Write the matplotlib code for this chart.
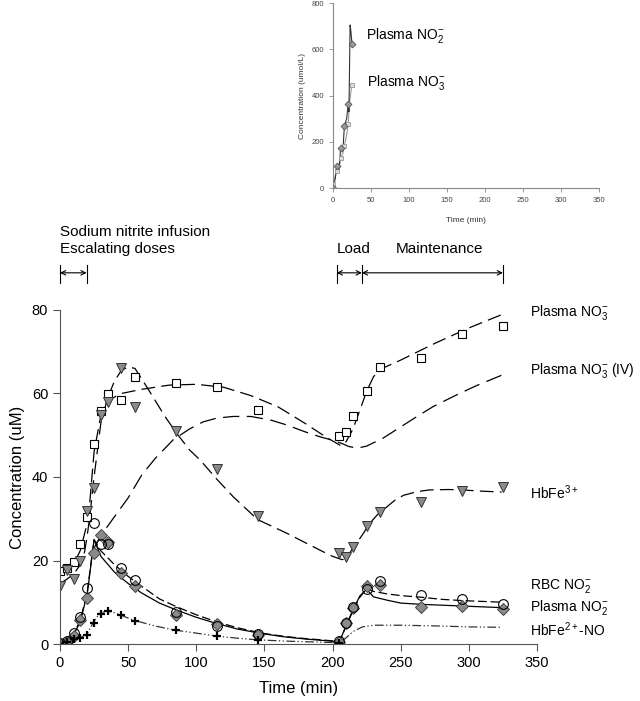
import matplotlib
matplotlib.use('Agg')
import matplotlib.pyplot as plt

plt.rcParams['font.family'] = ['Liberation Sans', 'DejaVu Sans']
plt.rcParams['mathtext.fontset'] = 'custom'
plt.rcParams['mathtext.rm'] = 'Liberation Sans'
plt.rcParams['mathtext.it'] = 'Liberation Sans:italic'

# measured time points (min)
t_meas = [0, 5, 10, 15, 20, 25, 30, 35, 45, 55, 85, 115, 145,
          205, 210, 215, 225, 235, 265, 295, 325]

# measured concentrations (uM)
no3_plasma = [17.6, 18.1, 19.7, 23.9, 30.5, 47.9, 55.8, 59.9, 58.4, 63.9, 62.6, 61.6, 56.0,
              49.9, 50.7, 54.5, 60.5, 66.4, 68.4, 74.2, 76.2]
hbfe3 = [13.9, 17.8, 15.6, 19.9, 31.9, 37.3, 54.8, 58.0, 66.0, 56.7, 51.0, 41.9, 30.7,
         21.9, 20.8, 23.3, 28.3, 31.5, 34.1, 36.6, 37.5]
no2_rbc = [0.2, 0.7, 2.7, 6.4, 13.3, 28.9, 23.9, 23.9, 18.1, 15.3, 7.6, 4.2, 2.3,
           0.7, 5.0, 8.8, 13.2, 15.2, 11.7, 10.8, 9.5]
no2_plasma = [0.0, 0.4, 2.0, 5.7, 10.9, 21.7, 26.1, 24.5, 17.0, 14.0, 7.0, 4.8, 2.1,
              0.4, 5.0, 8.6, 13.9, 14.1, 8.9, 9.1, 8.3]
hbno_t = [0, 5, 10, 15, 20, 25, 30, 35, 45, 55, 85, 115, 145, 205]
hbno = [0.0, 0.4, 1.3, 1.5, 2.2, 5.0, 7.1, 7.9, 6.9, 5.6, 3.4, 1.9, 1.0, 0.3]

# model fits
fit_no3_t = [0, 5, 10, 15, 20, 22, 25, 30, 35, 45, 60, 80, 100, 120, 140, 160, 180, 195, 206,
             210, 215, 220, 225, 230, 235, 250, 275, 300, 325]
fit_no3 = [17.5, 18.0, 19.0, 22.5, 29.0, 34.5, 46.0, 54.8, 58.3, 60.0, 61.0, 62.0, 62.2, 61.5,
           59.5, 56.8, 52.8, 49.6, 47.5, 48.5, 51.5, 56.0, 60.5, 64.0, 65.8, 68.0, 72.0, 75.7, 79.0]
fit_iv_t = [25, 30, 40, 50, 60, 70, 83, 95, 105, 115, 127, 140, 155, 166, 180, 191, 200, 207,
            212, 218, 225, 237, 250, 262, 274, 290, 305, 325]
fit_iv = [23.0, 26.0, 30.5, 35.0, 40.5, 44.5, 48.9, 51.5, 53.2, 54.1, 54.5, 54.5, 53.6, 52.5,
          50.8, 49.6, 48.8, 48.0, 47.3, 46.9, 47.4, 49.3, 52.0, 54.5, 56.9, 59.5, 61.8, 64.5]
fit_hb3_t = [0, 5, 10, 15, 18, 20, 22, 25, 30, 35, 40, 45, 50, 55, 60, 68, 77, 86, 95, 103,
             115, 127, 145, 166, 190, 200, 207, 210, 214, 218, 223, 227, 233, 240, 246, 252,
             262, 271, 285, 295, 310, 324]
fit_hb3 = [14.5, 15.5, 16.8, 19.0, 22.0, 26.0, 31.0, 40.0, 53.0, 59.0, 63.0, 65.5, 66.4, 66.0,
           63.5, 59.3, 54.5, 50.3, 46.5, 44.0, 39.5, 35.3, 29.8, 26.6, 22.6, 21.0, 20.2, 20.5,
           22.5, 24.3, 26.7, 28.8, 31.0, 32.9, 34.5, 35.6, 36.5, 36.9, 37.0, 36.9, 36.6, 36.4]
fit_rbc_t = [0, 5, 10, 15, 20, 25, 30, 40, 50, 60, 73, 85, 100, 115, 130, 148, 165, 180, 195,
             205, 210, 215, 220, 225, 230, 240, 250, 265, 280, 295, 310, 325]
fit_rbc = [0.0, 0.6, 2.3, 5.8, 12.5, 25.0, 22.3, 19.0, 16.2, 13.8, 10.8, 9.0, 7.0, 5.3, 3.9,
           2.6, 1.8, 1.3, 0.9, 0.6, 4.3, 8.0, 11.2, 13.3, 12.6, 12.0, 11.6, 11.2, 10.7, 10.4,
           10.2, 10.0]
fit_pl_t = [0, 5, 10, 15, 20, 25, 30, 40, 50, 60, 73, 85, 100, 115, 130, 148, 165, 180, 195,
            205, 210, 215, 220, 225, 230, 240, 250, 265, 280, 295, 310, 325]
fit_pl = [0.0, 0.5, 2.1, 5.5, 12.0, 25.0, 21.0, 17.2, 14.5, 12.2, 9.8, 8.2, 6.4, 4.9, 3.6,
          2.5, 1.7, 1.2, 0.8, 0.5, 4.5, 8.2, 11.5, 13.1, 11.3, 10.5, 9.8, 9.5, 9.3, 9.1, 8.9, 8.7]
fit_hbno_t = [0, 5, 10, 15, 20, 25, 29, 34, 40, 54, 70, 83, 100, 115, 130, 145, 165, 185, 205,
              210, 215, 222, 230, 250, 280, 300, 324]
fit_hbno = [0.0, 0.3, 0.8, 1.5, 2.5, 5.5, 7.3, 7.9, 7.5, 5.7, 4.3, 3.4, 2.6, 1.9, 1.4, 1.0,
            0.7, 0.5, 0.3, 1.5, 3.0, 4.1, 4.5, 4.5, 4.3, 4.1, 4.0]

# inset (umol/L)
ins_t = [0, 5, 10, 15, 20, 25]
ins_no2 = [0, 97, 171, 269, 363, 623]
ins_no3 = [18, 75, 128, 182, 277, 445]
ins_no2_line_t = [0, 3, 5, 8, 10, 13, 15, 18, 20, 21, 22.5, 23.5, 25]
ins_no2_line = [0, 40, 97, 75, 171, 160, 269, 300, 363, 330, 705, 680, 623]
ins_no3_line_t = [0, 5, 8, 10, 13, 15, 18, 20, 22, 25]
ins_no3_line = [18, 75, 90, 128, 150, 182, 230, 277, 380, 445]

fig = plt.figure(figsize=(6.4, 7.01), dpi=100)
ax = fig.add_axes([0.09375, 0.0813, 0.7453, 0.4765])

gray = '#8a8a8a'
ax.plot(fit_no3_t, fit_no3, color='black', lw=0.9, dashes=(11, 5))
ax.plot(fit_iv_t, fit_iv, color='black', lw=0.9, dashes=(13, 6))
ax.plot(fit_hb3_t, fit_hb3, color='black', lw=0.9, dashes=(11, 5))
ax.plot(fit_rbc_t, fit_rbc, color='black', lw=0.9, dashes=(7, 3))
ax.plot(fit_pl_t, fit_pl, color='black', lw=0.9)
ax.plot(fit_hbno_t, fit_hbno, color='#333333', lw=0.9, dashes=(7, 2, 1, 2, 1, 2))

ax.plot(t_meas, no3_plasma, 's', ms=6, mfc='white', mec='black', mew=0.8, ls='none')
ax.plot(t_meas, hbfe3, 'v', ms=7, mfc=gray, mec='#333333', mew=0.7, ls='none')
ax.plot(t_meas, no2_plasma, 'D', ms=6, mfc=gray, mec='#444444', mew=0.7, ls='none')
ax.plot(t_meas, no2_rbc, 'o', ms=7, mfc='none', mec='black', mew=0.8, ls='none')
ax.plot(hbno_t, hbno, '+', ms=6, mec='black', mew=1.6, ls='none')

ax.set_xlim(0, 350)
ax.set_ylim(0, 80)
ax.set_xticks(range(0, 351, 50))
ax.set_yticks(range(0, 81, 20))
ax.spines['top'].set_visible(False)
ax.spines['right'].set_visible(False)
for s in ['left', 'bottom']:
    ax.spines[s].set_color('#555555')
    ax.spines[s].set_linewidth(0.8)
ax.tick_params(direction='out', length=5, width=0.8, labelsize=10.5, color='#555555')
ax.set_xlabel('Time (min)', fontsize=12, labelpad=8)
ax.set_ylabel('Concentration (uM)', fontsize=12, labelpad=5)

labels = [(79.5, r'Plasma NO$_3^{-}$'),
          (65.5, r'Plasma NO$_3^{-}$ (IV)'),
          (36.3, r'HbFe$^{3+}$'),
          (13.8, r'RBC NO$_2^{-}$'),
          (8.8, r'Plasma NO$_2^{-}$'),
          (3.5, r'HbFe$^{2+}$-NO')]
for y, s in labels:
    ax.text(345, y, s, fontsize=10, va='center', ha='left', clip_on=False)

# infusion period markers
ax.text(0, 98.7, 'Sodium nitrite infusion', fontsize=11, va='center')
ax.text(0, 94.6, 'Escalating doses', fontsize=11, va='center')
ax.text(203, 94.6, 'Load', fontsize=11, va='center')
ax.text(246, 94.6, 'Maintenance', fontsize=11, va='center')
for a, b in [(0, 19.5), (203, 221.5), (221.5, 325)]:
    ax.annotate('', xy=(b, 88.9), xytext=(a, 88.9), annotation_clip=False,
                arrowprops=dict(arrowstyle='<->', lw=0.8, color='black',
                                shrinkA=0, shrinkB=0, mutation_scale=8))
for x in [0, 19.5, 203, 221.5, 325]:
    ax.plot([x, x], [86.5, 90.8], color='black', lw=0.8, clip_on=False)

# inset
ai = fig.add_axes([0.5203, 0.7318, 0.4156, 0.2639])
ai.plot(ins_no3_line_t, ins_no3_line, color='#999999', lw=0.8)
ai.plot(ins_no2_line_t, ins_no2_line, color='#333333', lw=0.8)
ai.plot(ins_t, ins_no3, 's', ms=3, mfc='#dddddd', mec='#999999', mew=0.6, ls='none')
ai.plot(ins_t, ins_no2, 'D', ms=3.5, mfc='#999999', mec='#555555', mew=0.6, ls='none')
ai.set_xlim(0, 350)
ai.set_ylim(0, 800)
ai.set_xticks(range(0, 351, 50))
ai.set_yticks(range(0, 801, 200))
ai.spines['top'].set_visible(False)
ai.spines['right'].set_visible(False)
for s in ['left', 'bottom']:
    ai.spines[s].set_color('#888888')
    ai.spines[s].set_linewidth(0.8)
ai.tick_params(direction='out', length=3, width=0.6, labelsize=5.5,
               color='#888888', labelcolor='#444444')
ai.set_xlabel('Time (min)', fontsize=6, labelpad=9, color='#333333')
ai.set_ylabel('Concentration (umol/L)', fontsize=6, color='#333333')
ai.text(44, 660, r'Plasma NO$_2^{-}$', fontsize=10, va='center')
ai.text(45, 455, r'Plasma NO$_3^{-}$', fontsize=10, va='center')

fig.savefig('out.png', dpi=100)
